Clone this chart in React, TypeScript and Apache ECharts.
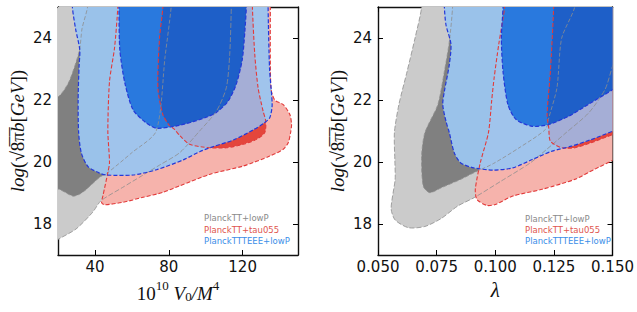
import React, { useEffect, useRef } from "react";
import * as echarts from "echarts";

// ---------- tick values / labels ----------
const leftXTicks = [40, 80, 120];
const rightXTicks = [0.05, 0.075, 0.1, 0.125, 0.15];
const yTicks = [18, 20, 22, 24];
const legendLabels = ["PlanckTT+lowP", "PlanckTT+tau055", "PlanckTTTEEE+lowP"];

// ---------- left panel contours (x: 10^10 V0/M^4, y: log(sqrt(8pi) b)) ----------
const leftGray2 = [
  [10, 26], [114.2, 26], [113.9, 25], [113, 23.46], [111.2, 22.4], [105.8, 21.64],
  [96.7, 21.0], [85.9, 20.3], [75, 19.9], [65, 19.54], [55, 19.18], [43.3, 18.75],
  [38.8, 18.38], [29.8, 17.84], [20, 17.5], [10, 17.1],
];
const leftGray1 = [
  [10, 22.0], [20, 22.1], [26, 22.6], [31.6, 23.6], [33, 24.3], [36, 25], [37, 26],
  [82, 26], [81.3, 25], [78, 23.4], [73.2, 21.0], [60, 20.3], [47, 19.66], [42.4, 19.5],
  [35, 19.1], [31.6, 18.96], [28, 18.9], [20.7, 19.12], [10, 19.3],
];
const leftRed2 = [
  [52.6, 26], [52.4, 25], [50.6, 23.67], [47.9, 22.6], [47, 21.0], [47.9, 19.98],
  [47, 19.66], [44.3, 18.9], [43.6, 18.7], [45.1, 18.62], [55.1, 18.7], [66, 18.86],
  [76.8, 19.02], [85.9, 19.23], [102.1, 19.6], [120.3, 19.87], [134.7, 20.19],
  [142, 20.41], [144.7, 20.62], [146, 20.95], [146.5, 21.2], [145.6, 21.53],
  [142, 21.85], [137.4, 22.0], [135.3, 22.4], [135, 25], [135, 26],
];
const leftRed1 = [
  [77, 26], [76.8, 25], [75, 24.0], [74.1, 22.39], [76.8, 21.53], [80, 21.2],
  [83.1, 21.05], [86, 20.85], [91.3, 20.57], [102.1, 20.46], [111.2, 20.46],
  [120.3, 20.57], [127.5, 20.73], [132, 20.95], [132.5, 21.32], [131.1, 21.64],
  [128.4, 22.39], [126.6, 23.46], [125.3, 25], [125.2, 26],
];
const leftBlue2 = [
  [27.6, 26], [27.8, 25], [29.6, 24.27], [31.8, 23.62], [31.4, 23.08], [30.9, 22.0],
  [31.2, 20.93], [32.7, 20.28], [36.3, 19.85], [42.6, 19.64], [46.3, 19.58],
  [60.7, 19.58], [73.4, 19.75], [87.9, 20.07], [97, 20.34], [104.2, 20.5],
  [115, 20.71], [125.9, 21.04], [131.4, 21.25], [134.7, 21.43], [136, 21.85],
  [134.6, 23], [133.8, 25], [133.8, 26],
];
const leftBlue1 = [
  [53, 26], [53, 25], [53.5, 23.62], [56.2, 22.55], [60.7, 21.68], [68, 21.25],
  [73.4, 21.09], [84, 21.16], [93.2, 21.3], [100.6, 21.45], [105.8, 21.6],
  [112, 21.95], [116.5, 22.5], [119.8, 23.3], [121.2, 24.2], [122, 25], [122, 26],
];

// ---------- right panel contours (x: lambda) ----------
const rightGray2 = [
  [0.0688, 26], [0.0686, 25], [0.0658, 24.0], [0.0624, 22.92], [0.0589, 21.85],
  [0.057, 20.95], [0.0572, 20.0], [0.0573, 19.44], [0.0556, 18.5], [0.0573, 18.13],
  [0.063, 17.88], [0.07, 17.92], [0.077, 18.18], [0.084, 18.58], [0.091, 18.85],
  [0.1024, 19.38], [0.1149, 19.97], [0.1218, 20.4], [0.1301, 20.94], [0.1399, 21.59],
  [0.1468, 22.34], [0.15, 23.09], [0.152, 23.5], [0.16, 26],
];
const rightGray1 = [
  [0.082, 26], [0.0818, 25], [0.0804, 23.88], [0.0783, 22.92], [0.0755, 21.85],
  [0.07, 20.95], [0.0686, 20.19], [0.0693, 19.22], [0.0721, 19.01], [0.077, 19.17],
  [0.0853, 19.44], [0.0908, 19.65], [0.0992, 19.95], [0.11, 20.45], [0.1214, 21.05],
  [0.1228, 21.42], [0.1263, 22.39], [0.1283, 23.99], [0.1339, 25], [0.135, 26],
];
const rightRed2 = [
  [0.1046, 26], [0.104, 25], [0.1015, 23.8], [0.0995, 22.7], [0.0985, 22.0],
  [0.0971, 20.95], [0.0936, 19.97], [0.0915, 19.12], [0.0922, 18.79], [0.0964, 18.6],
  [0.1, 18.63], [0.1075, 18.9], [0.12, 19.12], [0.1339, 19.44], [0.1422, 19.76],
  [0.15, 20.05], [0.16, 20.4], [0.16, 26],
];
const rightRed1 = [
  [0.125, 26], [0.1249, 25], [0.1235, 22.92], [0.1221, 21.53], [0.1228, 21.1],
  [0.1235, 20.67], [0.1283, 20.46], [0.1339, 20.46], [0.1408, 20.62], [0.15, 20.88],
  [0.16, 21.1], [0.16, 26],
];
const rightBlue2 = [
  [0.0783, 26], [0.0783, 25], [0.079, 24.42], [0.0811, 23.8], [0.0804, 23.14],
  [0.0783, 22.28], [0.0776, 21.85], [0.079, 21.31], [0.0804, 20.95], [0.0825, 20.3],
  [0.0853, 19.97], [0.0908, 19.81], [0.0992, 19.74], [0.1075, 19.81], [0.1158, 20.08],
  [0.1242, 20.35], [0.1325, 20.51], [0.1408, 20.72], [0.15, 20.99], [0.16, 21.3],
  [0.16, 26],
];
const rightBlue1 = [
  [0.1033, 26], [0.1033, 25], [0.1026, 23.99], [0.1033, 22.92], [0.1054, 21.85],
  [0.1089, 21.37], [0.1158, 21.15], [0.1228, 21.21], [0.1311, 21.47], [0.1395, 21.85],
  [0.15, 22.33], [0.16, 22.8], [0.16, 26],
];

// ---------- styles ----------
const C = {
  gray2: "#cbcbcb",
  gray1: "#808080",
  grayLine: "#8e8e8e",
  red2: "#f6b3ac",
  red1: "#e4463c",
  redLine: "#e23a3a",
  blue2: "rgba(155,197,239,0.95)",
  redUnderBlue2: "rgba(184,128,169,0.25)",
  blue1: "rgba(24,110,220,0.88)",
  redUnderBlue1: "rgba(0,28,142,0.25)",
  blueLine: "#2438d8",
  legend: ["#8a8a8a", "#e0554e", "#3a8ee8"],
};

function buildLayers(g2, g1, r2, r1, b2, b1) {
  const fills = [
    { pts: g2, fill: C.gray2 },
    { pts: g1, fill: C.gray1 },
    { pts: r2, fill: C.red2 },
    { pts: r1, fill: C.red1 },
    { pts: b2, fill: C.blue2 },
    { pts: r1, fill: C.redUnderBlue2, clip: b2 },
    { pts: b1, fill: C.blue1 },
    { pts: r1, fill: C.redUnderBlue1, clip: b1 },
  ];
  const lines = [
    { pts: g2, stroke: C.grayLine, lw: 0.8, dash: [5, 2] },
    { pts: g1, stroke: C.grayLine, lw: 0.8, dash: [4, 2] },
    { pts: r2, stroke: C.redLine, lw: 1.1, dash: [4, 2] },
    { pts: r1, stroke: C.redLine, lw: 1.1, dash: [4, 2] },
    { pts: b2, stroke: C.blueLine, lw: 1.2, dash: [4, 2] },
    { pts: b1, stroke: C.blueLine, lw: 1.2, dash: [4, 2] },
  ];
  return { fills, lines };
}

const SMOOTH = 0.25;

function contourSeries(axisIndex: number, L: any, anchor: number[]) {
  return {
    type: "custom",
    xAxisIndex: axisIndex,
    yAxisIndex: axisIndex,
    silent: true,
    data: [anchor],
    renderItem: (params: any, api: any) => {
      const cs = params.coordSys;
      const map = (pts: number[][]) => pts.map((p) => api.coord(p));
      const fills = L.fills.map((l: any) => {
        const poly = {
          type: "polygon",
          shape: { points: map(l.pts), smooth: SMOOTH },
          style: { fill: l.fill },
        };
        if (!l.clip) return poly;
        return {
          type: "group",
          clipPath: { type: "polygon", shape: { points: map(l.clip), smooth: SMOOTH } },
          children: [poly],
        };
      });
      const lines = L.lines.map((l: any) => ({
        type: "polygon",
        shape: { points: map(l.pts), smooth: SMOOTH },
        style: { fill: "none", stroke: l.stroke, lineWidth: l.lw, lineDash: l.dash },
      }));
      return {
        type: "group",
        clipPath: { type: "rect", shape: { x: cs.x, y: cs.y, width: cs.width, height: cs.height } },
        children: [...fills, ...lines],
      };
    },
  };
}

const tickFont = { color: "#111", fontSize: 15, fontFamily: "'DejaVu Sans', sans-serif" };
const axisLine = { show: true, onZero: false, lineStyle: { color: "#111", width: 1.4 } };

function xAxes(grid: number, min: number, max: number, ticks: number[], fmt: any, name: string, rich: any) {
  return [
    {
      type: "value", gridIndex: grid, position: "bottom", min, max,
      axisLine,
      axisTick: { show: true, inside: true, length: 5, customValues: ticks, lineStyle: { color: "#000" } },
      axisLabel: { show: true, customValues: ticks, formatter: fmt, margin: 4, ...tickFont },
      splitLine: { show: false },
      name, nameLocation: "middle", nameGap: 24,
      nameTextStyle: { rich, color: "#111" },
    },
    {
      type: "value", gridIndex: grid, position: "top", min, max,
      axisLine,
      axisTick: { show: true, inside: true, length: 5, customValues: ticks, lineStyle: { color: "#000" } },
      axisLabel: { show: false },
      splitLine: { show: false },
    },
  ];
}

function yAxes(grid: number) {
  const yRich = {
    i: { fontFamily: "'Liberation Serif', serif", fontStyle: "italic", fontSize: 19 },
    r: { fontFamily: "'Liberation Serif', serif", fontSize: 19 },
  };
  return [
    {
      type: "value", gridIndex: grid, position: "left", min: 17, max: 25,
      axisLine,
      axisTick: { show: true, inside: true, length: 5, customValues: yTicks, lineStyle: { color: "#000" } },
      axisLabel: { show: true, customValues: yTicks, margin: 6, ...tickFont },
      splitLine: { show: false },
      name: "{i|log}{r|(√}{r|8\u0305π\u0305}{i|b}{r|[}{i|GeV}{r|])}",
      nameLocation: "middle", nameGap: 31, nameRotate: 90,
      nameTextStyle: { rich: yRich, color: "#111" },
    },
    {
      type: "value", gridIndex: grid, position: "right", min: 17, max: 25,
      axisLine,
      axisTick: { show: true, inside: true, length: 5, customValues: yTicks, lineStyle: { color: "#000" } },
      axisLabel: { show: false },
      splitLine: { show: false },
    },
  ];
}

function legend(x: number, ys: number[]) {
  return legendLabels.map((t, i) => ({
    type: "text",
    x,
    y: ys[i],
    style: { text: t, fill: C.legend[i], font: "8.5px 'DejaVu Sans', sans-serif", verticalAlign: "middle" },
    z: 100,
  }));
}

export default function App() {
  const ref = useRef<HTMLDivElement>(null);
  useEffect(() => {
    if (!ref.current) return;
    const chart = echarts.init(ref.current, null, { renderer: "svg" });
    const serif = "'Liberation Serif', serif";
    const xRich = {
      a: { fontFamily: serif, fontSize: 19, verticalAlign: "bottom", lineHeight: 24 },
      i: { fontFamily: serif, fontStyle: "italic", fontSize: 19, verticalAlign: "bottom", lineHeight: 24 },
      s: { fontFamily: serif, fontSize: 13, verticalAlign: "top", lineHeight: 24 },
      u: { fontFamily: serif, fontSize: 13, verticalAlign: "bottom", lineHeight: 20 },
    };
    const lamRich = {
      i: { fontFamily: serif, fontStyle: "italic", fontSize: 21 },
    };
    const option: any = {
      animation: false,
      grid: [
        { left: 58, top: 7, width: 240, height: 248 },
        { left: 378, top: 7, width: 240, height: 248 },
      ],
      xAxis: [
        ...xAxes(0, 20, 150, leftXTicks, (v: number) => String(v),
          "{a|10}{s|10}{a| }{i|V}{u|0}{i|/M}{s|4}", xRich),
        ...xAxes(1, 0.05, 0.15, rightXTicks, (v: number) => v.toFixed(3), "{i|λ}", lamRich),
      ],
      yAxis: [...yAxes(0), ...yAxes(1)],
      series: [
        contourSeries(0, buildLayers(leftGray2, leftGray1, leftRed2, leftRed1, leftBlue2, leftBlue1), [leftXTicks[1], yTicks[1]]),
        contourSeries(2, buildLayers(rightGray2, rightGray1, rightRed2, rightRed1, rightBlue2, rightBlue1), [rightXTicks[2], yTicks[1]]),
      ],
      graphic: [...legend(204, [218, 230, 241]), ...legend(525, [219, 230, 241])],
    };
    chart.setOption(option);
    return () => chart.dispose();
  }, []);
  return (
    <div
      ref={ref}
      style={{ position: "fixed", left: 0, top: 0, width: 637, height: 312, background: "#fff" }}
    />
  );
}
